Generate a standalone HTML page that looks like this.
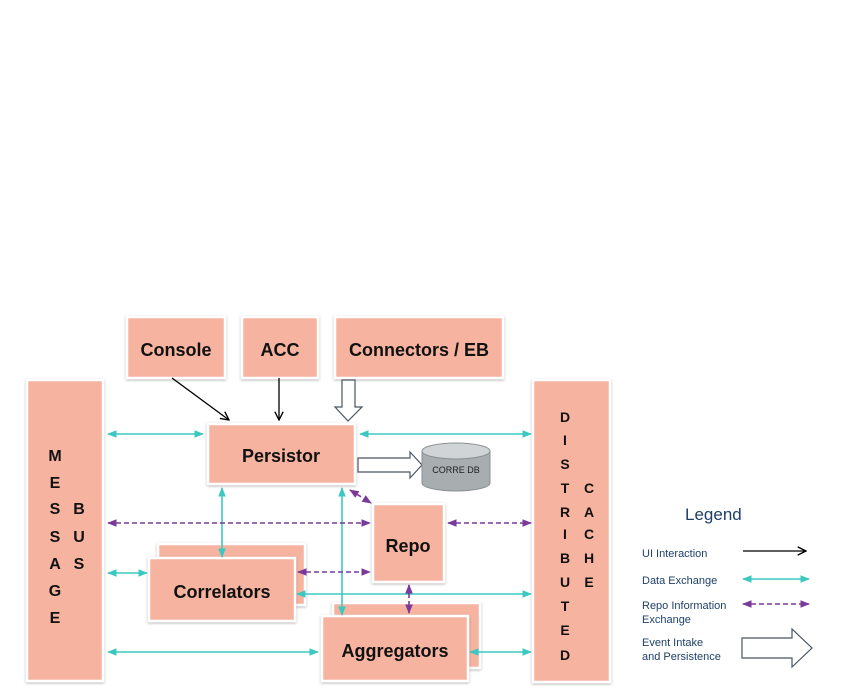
<!DOCTYPE html>
<html><head><meta charset="utf-8"><style>
html,body{margin:0;padding:0;background:#fff;}
svg{display:block;}
.b{fill:#f6b4a0;stroke:#fff;stroke-width:2.5;filter:url(#sh);}
.t{font-family:"Liberation Sans",sans-serif;font-weight:bold;fill:#111;text-anchor:middle;}
.l{font-family:"Liberation Sans",sans-serif;fill:#1f3f6a;font-size:11px;}
.tl{stroke:#3cc8c0;stroke-width:1.6;fill:none;}
.pl{stroke:#7a3a9a;stroke-width:1.6;stroke-dasharray:5,3;fill:none;}
</style></head><body>
<svg width="847" height="689" viewBox="0 0 847 689" xmlns="http://www.w3.org/2000/svg">
<defs>
<filter id="sh" x="-10%" y="-10%" width="120%" height="120%"><feDropShadow dx="0" dy="1" stdDeviation="1.2" flood-color="#000" flood-opacity="0.3"/></filter>
<marker id="ta" viewBox="0 0 10 10" refX="9" refY="5" markerWidth="6" markerHeight="6" orient="auto-start-reverse"><path d="M0,1 L10,5 L0,9 z" fill="#3cc8c0"/></marker>
<marker id="pa" viewBox="0 0 10 10" refX="9" refY="5" markerWidth="6" markerHeight="6" orient="auto-start-reverse"><path d="M0,1 L10,5 L0,9 z" fill="#7a3a9a"/></marker>
<marker id="ba" viewBox="0 0 10 10" refX="9" refY="5" markerWidth="8" markerHeight="8" orient="auto"><path d="M1,1 L9,5 L1,9" fill="none" stroke="#000" stroke-width="1.3"/></marker>
</defs>
<g>
<rect class="b" x="127" y="317" width="98" height="61"/>
<rect class="b" x="242" y="317" width="76" height="61"/>
<rect class="b" x="335" y="317" width="168" height="61"/>
<rect class="b" x="27" y="380" width="76" height="301"/>
<rect class="b" x="533" y="380" width="77" height="302"/>
<rect class="b" x="208" y="424" width="147" height="60"/>
<rect class="b" x="373" y="504" width="71" height="78"/>
<rect class="b" x="158" y="544" width="147" height="61"/>
<rect class="b" x="149" y="558" width="146" height="63"/>
<rect class="b" x="333" y="603" width="147" height="65"/>
<rect class="b" x="322" y="616" width="146" height="65"/>
</g>
<text class="t" x="176" y="356" font-size="18">Console</text>
<text class="t" x="280" y="356" font-size="18">ACC</text>
<text class="t" x="419" y="356" font-size="18">Connectors / EB</text>
<text class="t" x="281" y="462" font-size="18">Persistor</text>
<text class="t" x="408" y="552" font-size="18">Repo</text>
<text class="t" x="222" y="598" font-size="18">Correlators</text>
<text class="t" x="395" y="657" font-size="18">Aggregators</text>
<g class="t" font-size="16">
<text x="55" y="461">M</text><text x="55" y="488">E</text><text x="55" y="514">S</text><text x="55" y="542">S</text><text x="55" y="569">A</text><text x="55" y="596">G</text><text x="55" y="623">E</text>
<text x="79" y="514">B</text><text x="79" y="542">U</text><text x="79" y="569">S</text>
</g>
<g class="t" font-size="14">
<text x="565" y="422">D</text><text x="565" y="445">I</text><text x="565" y="469">S</text><text x="565" y="493">T</text><text x="565" y="517">R</text><text x="565" y="539">I</text><text x="565" y="563">B</text><text x="565" y="587">U</text><text x="565" y="611">T</text><text x="565" y="635">E</text><text x="565" y="660">D</text>
<text x="589" y="493">C</text><text x="589" y="517">A</text><text x="589" y="539">C</text><text x="589" y="563">H</text><text x="589" y="587">E</text>
</g>
<!-- black arrows -->
<line x1="172" y1="378" x2="229" y2="420" stroke="#000" stroke-width="1.3" marker-end="url(#ba)"/>
<line x1="279" y1="378" x2="279" y2="420" stroke="#000" stroke-width="1.3" marker-end="url(#ba)"/>
<!-- hollow arrows -->
<path d="M342,380 L355,380 L355,407 L362,407 L348,421 L335,407 L342,407 Z" fill="#fff" stroke="#4a5560" stroke-width="1.2"/>
<path d="M358,458 L410,458 L410,452 L422,465 L410,478 L410,472 L358,472 Z" fill="#fff" stroke="#4a5560" stroke-width="1.2"/>
<!-- DB -->
<path d="M422,451 L422,483 A34,8 0 0 0 490,483 L490,451" fill="#a8adb0" stroke="#8a9094"/>
<ellipse cx="456" cy="451" rx="34" ry="8" fill="#d0d4d6" stroke="#8a9094"/>
<text x="456" y="473" font-family="Liberation Sans,sans-serif" font-size="9" fill="#222" text-anchor="middle">CORRE DB</text>
<!-- teal -->
<line class="tl" x1="108" y1="434" x2="203" y2="434" marker-start="url(#ta)" marker-end="url(#ta)"/>
<line class="tl" x1="360" y1="434" x2="531" y2="434" marker-start="url(#ta)" marker-end="url(#ta)"/>
<line class="tl" x1="108" y1="573" x2="147" y2="573" marker-start="url(#ta)" marker-end="url(#ta)"/>
<line class="tl" x1="297" y1="594" x2="531" y2="594" marker-start="url(#ta)" marker-end="url(#ta)"/>
<line class="tl" x1="222" y1="488" x2="222" y2="557" marker-start="url(#ta)" marker-end="url(#ta)"/>
<line class="tl" x1="342" y1="488" x2="342" y2="615" marker-start="url(#ta)" marker-end="url(#ta)"/>
<line class="tl" x1="108" y1="652" x2="318" y2="652" marker-start="url(#ta)" marker-end="url(#ta)"/>
<line class="tl" x1="470" y1="652" x2="531" y2="652" marker-start="url(#ta)" marker-end="url(#ta)"/>
<!-- purple -->
<line class="pl" x1="108" y1="523" x2="370" y2="523" marker-start="url(#pa)" marker-end="url(#pa)"/>
<line class="pl" x1="448" y1="523" x2="531" y2="523" marker-start="url(#pa)" marker-end="url(#pa)"/>
<line class="pl" x1="298" y1="572" x2="370" y2="572" marker-start="url(#pa)" marker-end="url(#pa)"/>
<line class="pl" x1="350" y1="490" x2="371" y2="503" marker-start="url(#pa)" marker-end="url(#pa)"/>
<line class="pl" x1="409" y1="585" x2="409" y2="613" marker-start="url(#pa)" marker-end="url(#pa)"/>
<!-- legend -->
<text x="685" y="520" font-family="Liberation Sans,sans-serif" font-size="17" fill="#1f3f6a">Legend</text>
<text class="l" x="642" y="557">UI Interaction</text>
<line x1="743" y1="551" x2="806" y2="551" stroke="#000" stroke-width="1.3" marker-end="url(#ba)"/>
<text class="l" x="642" y="584">Data Exchange</text>
<line class="tl" x1="743" y1="579" x2="809" y2="579" marker-start="url(#ta)" marker-end="url(#ta)"/>
<text class="l" x="642" y="609">Repo Information</text>
<text class="l" x="642" y="623">Exchange</text>
<line class="pl" x1="743" y1="604" x2="809" y2="604" marker-start="url(#pa)" marker-end="url(#pa)"/>
<text class="l" x="642" y="646">Event Intake</text>
<text class="l" x="642" y="660">and Persistence</text>
<path d="M742,638 L792,638 L792,629 L812,648 L792,667 L792,658 L742,658 Z" fill="#fff" stroke="#4a5560" stroke-width="1.2"/>
</svg>
</body></html>
